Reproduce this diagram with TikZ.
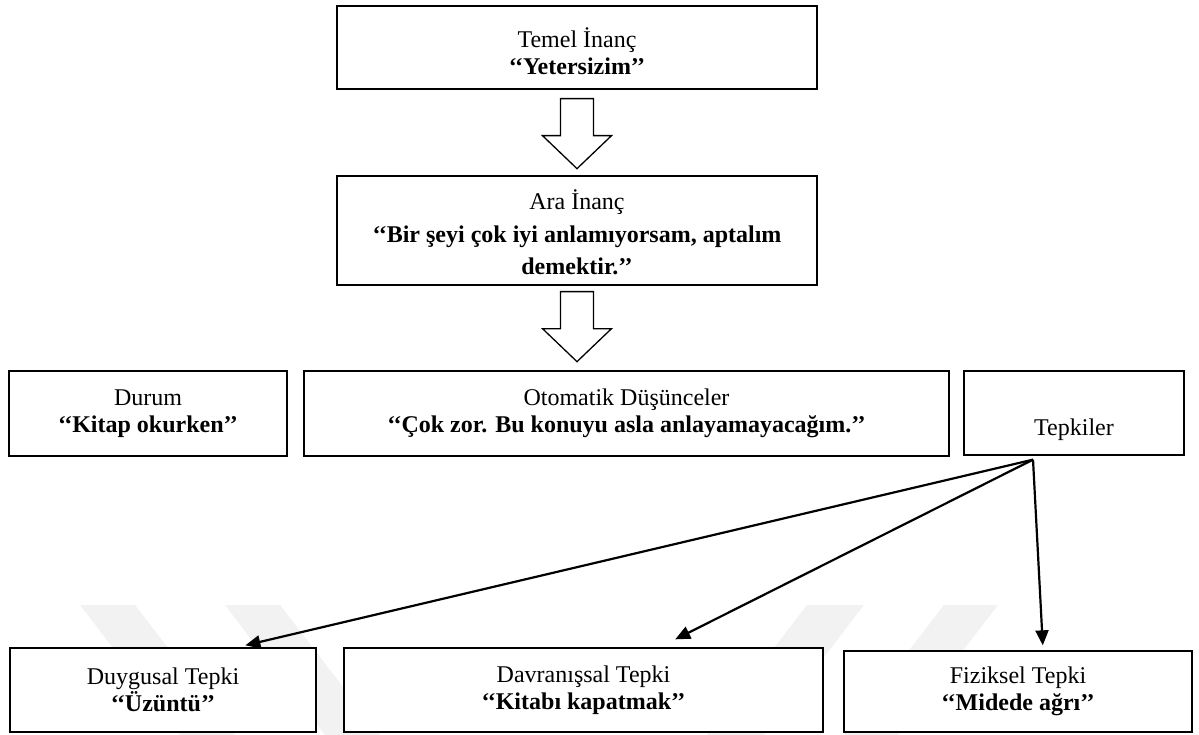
\documentclass[tikz,border=0pt]{standalone}
\usepackage{fontspec}
\setmainfont{Liberation Serif}
\usetikzlibrary{arrows.meta,calc,shadows}
\newcommand\dfont{\fontsize{24}{27}\selectfont}
\begin{document}
\begin{tikzpicture}[x=1pt,y=-1pt,
  box/.style={draw, line width=1.3pt, fill=white, align=center, inner sep=0pt, font=\dfont,
    drop shadow={shadow xshift=1.2pt, shadow yshift=-1.2pt, opacity=0.3}},
  conn/.style={line width=2.2pt, -{Triangle[length=15pt,width=13pt]}},
  wm/.style={fill=black!5, draw=none},
  blockarr/.pic={\draw[line width=1.3pt, fill=white] (-16.5,0) -- (16.5,0) -- (16.5,37) -- (34.5,37) -- (0,70) -- (-34.5,37) -- (-16.5,37) -- cycle;}
]
\useasboundingbox (0,0) rectangle (1199,735);
\fill[white] (0,0) rectangle (1199,735);
% faint watermark
\fill[wm] (80,605) -- (135,605) -- (235,735) -- (180,735) -- cycle;
\fill[wm] (225,605) -- (280,605) -- (380,735) -- (325,735) -- cycle;
\fill[wm] (807,605) -- (864,605) -- (764,735) -- (707,735) -- cycle;
\fill[wm] (944,605) -- (998,605) -- (898,735) -- (844,735) -- cycle;

\node[box, minimum width=480pt, minimum height=83pt] (temel) at (577,47.5)
  {\rule{0pt}{28pt}Temel İnanç\\\textbf{‘‘Yetersizim’’}};
\node[box, minimum width=480pt, minimum height=109pt] (ara) at (577,230.5)
  {\rule{0pt}{24pt}Ara İnanç\\[6pt]\textbf{‘‘Bir şeyi çok iyi anlamıyorsam, aptalım}\\[5pt]\textbf{demektir.’’}};
\node[box, minimum width=278pt, minimum height=85pt] (durum) at (148,413.5)
  {Durum\\\textbf{‘‘Kitap okurken’’}};
\node[box, minimum width=645pt, minimum height=85pt] (oto) at (626.5,413.5)
  {Otomatik Düşünceler\\\textbf{‘‘Çok zor. Bu konuyu asla anlayamayacağım.’’}};
\node[box, minimum width=220pt, minimum height=84pt] (tep) at (1074,413)
  {\rule{0pt}{24pt}\\Tepkiler};
\node[box, minimum width=306pt, minimum height=84pt] (duy) at (163,690)
  {Duygusal Tepki\\\textbf{‘‘Üzüntü’’}};
\node[box, minimum width=479pt, minimum height=84pt] (dav) at (583.5,690)
  {Davranışsal Tepki\\\textbf{‘‘Kitabı kapatmak’’}};
\node[box, minimum width=348pt, minimum height=81pt] (fiz) at (1018,691.5)
  {Fiziksel Tepki\\\textbf{‘‘Midede ağrı’’}};

\pic at ($(temel.south)+(0,9)$) {blockarr};
\pic at ($(ara.south)+(0,6)$) {blockarr};

\coordinate (src) at ($(tep.south)+(-41,4)$);
\draw[conn] (src) -- ($(duy.north west)!0.768!(duy.north east)+(0,-2)$);
\draw[conn] (src) -- ($(dav.north west)!0.691!(dav.north east)+(0,-8)$);
\draw[conn] (src) -- ($(fiz.north west)!0.571!(fiz.north east)+(0,-5)$);
\end{tikzpicture}
\end{document}
